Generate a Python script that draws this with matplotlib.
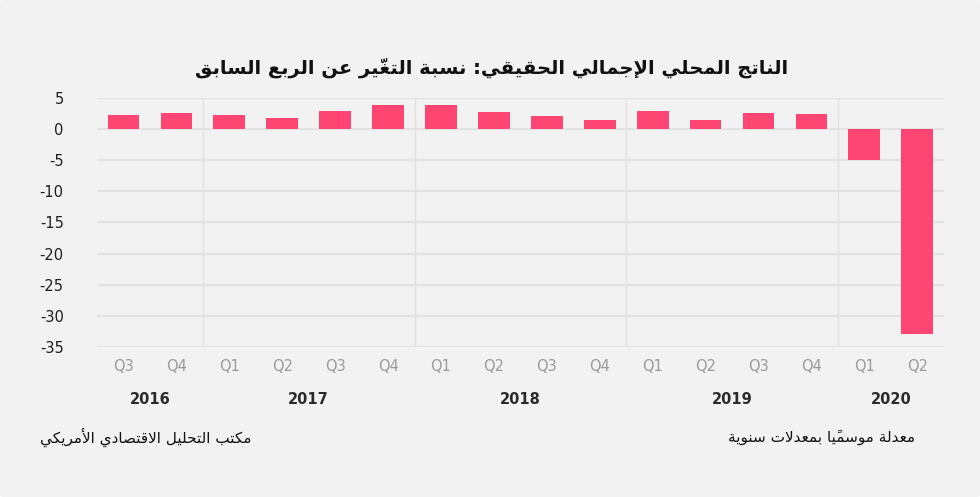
#!/usr/bin/env python3
"""Real GDP, quarter-over-quarter change (annualised) - Arabic-labelled bar chart."""
import matplotlib
matplotlib.use("Agg")
import matplotlib.pyplot as plt
from matplotlib.patches import FancyBboxPatch

# --- data -----------------------------------------------------------------
quarters = ["Q3", "Q4", "Q1", "Q2", "Q3", "Q4", "Q1", "Q2", "Q3", "Q4",
            "Q1", "Q2", "Q3", "Q4", "Q1", "Q2"]
gdp_change = [2.2, 2.5, 2.3, 1.7, 2.9, 3.9, 3.8, 2.7, 2.1, 1.4,
              2.9, 1.5, 2.6, 2.4, -5.0, -32.9]
years = ["2016", "2017", "2018", "2019", "2020"]
year_quarter_counts = [2, 4, 4, 4, 2]
y_ticks = [5, 0, -5, -10, -15, -20, -25, -30, -35]

title = "الناتج المحلي الإجمالي الحقيقي: نسبة التغيّر عن الربع السابق"
source = "مكتب التحليل الاقتصادي الأمريكي"
note = "معدلة موسميًا بمعدلات سنوية"

# --- tiny arabic shaper (matplotlib has no shaping / bidi) -----------------
DUAL = {"ئ": 0xFE89, "ب": 0xFE8F, "ت": 0xFE95, "ث": 0xFE99, "ج": 0xFE9D,
        "ح": 0xFEA1, "خ": 0xFEA5, "س": 0xFEB1, "ش": 0xFEB5, "ص": 0xFEB9,
        "ض": 0xFEBD, "ط": 0xFEC1, "ظ": 0xFEC5, "ع": 0xFEC9, "غ": 0xFECD,
        "ف": 0xFED1, "ق": 0xFED5, "ك": 0xFED9, "ل": 0xFEDD, "م": 0xFEE1,
        "ن": 0xFEE5, "ه": 0xFEE9, "ي": 0xFEF1}
RIGHT = {"آ": 0xFE81, "أ": 0xFE83, "ؤ": 0xFE85, "إ": 0xFE87, "ا": 0xFE8D,
         "ة": 0xFE93, "د": 0xFEA9, "ذ": 0xFEAB, "ر": 0xFEAD, "ز": 0xFEAF,
         "و": 0xFEED, "ى": 0xFEEF, "ء": 0xFE80}
LAM_ALEF = {"آ": 0xFEF5, "أ": 0xFEF7, "إ": 0xFEF9, "ا": 0xFEFB}
MARKS = set("\u064B\u064C\u064D\u064E\u064F\u0650\u0651\u0652")


def shape(text):
    # split into clusters: [base, marks]
    clusters = []
    i = 0
    while i < len(text):
        ch = text[i]
        if ch in MARKS and clusters:
            clusters[-1][1] += ch
            i += 1
            continue
        if ch == "ل" and i + 1 < len(text) and text[i + 1] in LAM_ALEF:
            clusters.append(["LA" + text[i + 1], ""])
            i += 2
            continue
        clusters.append([ch, ""])
        i += 1

    def joins_next(base):
        return base in DUAL

    def is_letter(base):
        return base in DUAL or base in RIGHT or base.startswith("LA")

    out = []
    for k, (base, marks) in enumerate(clusters):
        prev_j = k > 0 and joins_next(clusters[k - 1][0])
        next_j = k + 1 < len(clusters) and is_letter(clusters[k + 1][0])
        if base.startswith("LA"):
            g = chr(LAM_ALEF[base[2]] + (1 if prev_j else 0))
        elif base in DUAL:
            s = DUAL[base]
            if prev_j and next_j:
                g = chr(s + 3)
            elif prev_j:
                g = chr(s + 1)
            elif next_j:
                g = chr(s + 2)
            else:
                g = chr(s)
        elif base in RIGHT:
            s = RIGHT[base]
            g = chr(s + 1) if (prev_j and base != "ء") else chr(s)
        else:
            g = base
        out.append(g + marks)
    return "".join(reversed(out))   # visual order, left to right


# --- figure ---------------------------------------------------------------
BG = "#f2f2f2"
BAR = "#ff4572"
GRID = "#e2e2e2"

fig = plt.figure(figsize=(9.8, 4.97), dpi=100, facecolor="white")
fig.patches.append(FancyBboxPatch((0, 0), 1, 1,
                                  boxstyle="round,pad=0,rounding_size=0.004",
                                  transform=fig.transFigure, facecolor=BG,
                                  edgecolor="none", zorder=-10))
ax = fig.add_axes([0.099, 0.302, 0.864, 0.501])
ax.set_facecolor(BG)

x = list(range(len(gdp_change)))
ax.bar(x, gdp_change, width=0.6, color=BAR, zorder=3)

ax.set_xlim(-0.5, len(x) - 0.5)
ax.set_ylim(-35, 5)
ax.set_yticks(y_ticks)
ax.set_yticklabels([str(t) for t in y_ticks], fontsize=10.5, color="#1e1e1e",
                   family="DejaVu Sans", fontweight="medium")
ax.yaxis.grid(True, color=GRID, linewidth=1.6, zorder=0)
ax.tick_params(axis="y", length=0, pad=24)

ax.set_xticks(x)
ax.set_xticklabels(quarters, fontsize=10.5, color="#9a9a9a", family="DejaVu Sans")
ax.tick_params(axis="x", length=0, pad=9)
for s in ax.spines.values():
    s.set_visible(False)

# year separators and labels
start = 0
for yr, n in zip(years, year_quarter_counts):
    if start > 0:
        ax.axvline(start - 0.5, color=GRID, linewidth=1.0, zorder=1)
    ax.text(start + (n - 1) / 2, -0.212, yr, transform=ax.get_xaxis_transform(),
            ha="center", va="center", fontsize=10.5, fontweight="bold",
            color="#2a2a2a", family="DejaVu Sans")
    start += n

fig.text(0.502, 0.863, shape(title), ha="center", va="center", fontsize=14,
         fontweight="bold", color="#111111", family="DejaVu Sans")
fig.text(0.041, 0.121, shape(source), ha="left", va="center", fontsize=11,
         color="#111111", family="DejaVu Sans")
fig.text(0.934, 0.121, shape(note), ha="right", va="center", fontsize=11,
         color="#111111", family="DejaVu Sans")

fig.savefig("out.png", dpi=100, facecolor="white")
